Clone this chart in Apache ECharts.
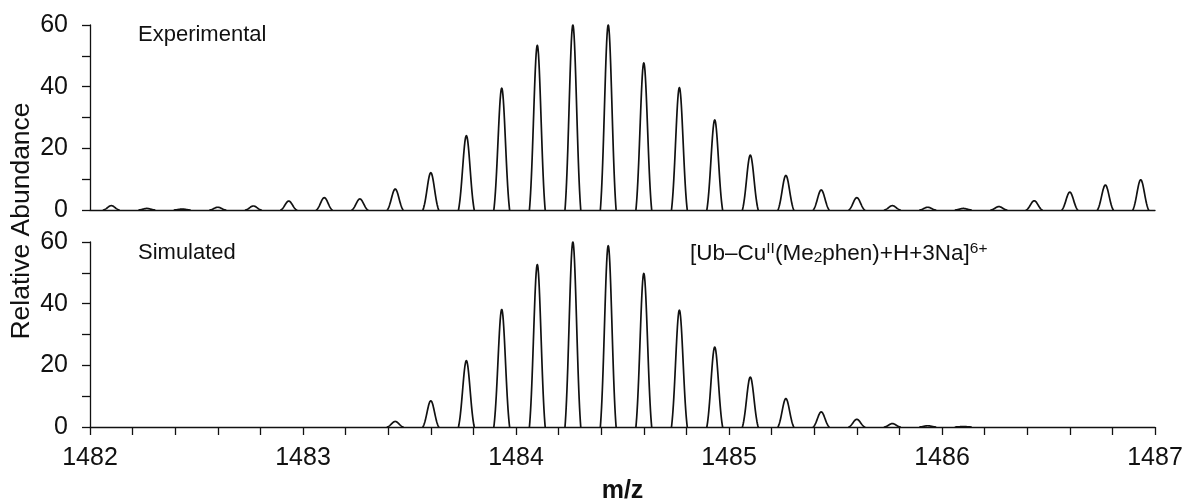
<!DOCTYPE html>
<html>
<head>
<meta charset="utf-8">
<script src="https://cdn.jsdelivr.net/npm/echarts@6/dist/echarts.min.js"></script>
<style>
html,body{margin:0;padding:0;background:#fff;}
#chart{width:1186px;height:501px;}
</style>
</head>
<body>
<div id="chart"></div>
<script>
// Peak centroid positions (m/z)
const peakMz = [
  1482.100, 1482.267, 1482.433, 1482.600, 1482.767, 1482.933,
  1483.100, 1483.267, 1483.433, 1483.600, 1483.767, 1483.933,
  1484.100, 1484.267, 1484.433, 1484.600, 1484.767, 1484.933,
  1485.100, 1485.267, 1485.433, 1485.600, 1485.767, 1485.933,
  1486.100, 1486.267, 1486.433, 1486.600, 1486.767, 1486.933
];
// Experimental peak heights (relative abundance)
const experimental = [
  1.4, 0.5, 0.3, 0.9, 1.3, 2.9,
  4.0, 3.6, 6.8, 12.1, 24.1, 39.5,
  53.4, 60.0, 60.0, 47.7, 39.7, 29.2,
  17.8, 11.2, 6.5, 4.0, 1.4, 0.9,
  0.5, 1.1, 3.0, 5.8, 8.1, 9.8
];
// Simulated peak heights (relative abundance)
const simulated = [
  0, 0, 0, 0, 0, 0,
  0, 0, 1.8, 8.5, 21.5, 38.1,
  52.7, 60.0, 58.8, 49.8, 37.9, 25.9,
  16.2, 9.2, 4.9, 2.5, 1.1, 0.4,
  0.15, 0, 0, 0, 0, 0
];
const xTicks = [1482, 1483, 1484, 1485, 1486, 1487];
const yTicks = [0, 20, 40, 60];

const FONT = 'Liberation Sans, Arial, sans-serif';
const LINE = '#111';

function pairs(vals) {
  return peakMz.map((m, i) => [m, vals[i]]);
}

// Draws one peak glyph per data point: a narrow bell shape centred at the
// point's m/z and reaching the point's height, positioned via api.coord.
const HALF_WIDTH = 0.037; // m/z units, visual half-width of a peak at its base
const SHAPE_A = 2.2;
function renderPeak(params, api) {
  const mz = api.value(0);
  const h = api.value(1);
  if (!(h > 0)) return null;
  const pts = [];
  const n = 40;
  const base = Math.exp(-SHAPE_A);
  for (let k = 0; k <= n; k++) {
    const t = -1 + 2 * k / n;
    const f = (Math.exp(-SHAPE_A * t * t) - base) / (1 - base);
    pts.push(api.coord([mz + t * HALF_WIDTH, h * f]));
  }
  return {
    type: 'polyline',
    shape: { points: pts, smooth: 0 },
    style: { stroke: LINE, lineWidth: 1.7, fill: null, lineJoin: 'round', lineCap: 'round' }
  };
}

function isTick(v, list) {
  return list.some(t => Math.abs(t - v) < 1e-6);
}

const yAxisCommon = {
  type: 'value', min: 0, max: 60, interval: 10,
  axisLine: { show: true, lineStyle: { color: LINE, width: 1.3 } },
  axisTick: { show: true, length: 8, lineStyle: { color: LINE, width: 1.3 } },
  splitLine: { show: false },
  axisLabel: {
    margin: 22, fontFamily: FONT, fontSize: 25, color: '#111',
    formatter: v => isTick(v, yTicks) ? String(v) : ''
  }
};

const option = {
  backgroundColor: '#fff',
  animation: false,
  grid: [
    { left: 90, top: 25, width: 1065, height: 185, containLabel: false, outerBoundsMode: 'none' },
    { left: 90, top: 242, width: 1065, height: 185, containLabel: false, outerBoundsMode: 'none' }
  ],
  xAxis: [
    {
      gridIndex: 0, type: 'value', min: 1482, max: 1487, interval: 0.2,
      axisLine: { show: true, onZero: false, lineStyle: { color: LINE, width: 1.3 } },
      axisTick: { show: false }, axisLabel: { show: false }, splitLine: { show: false }
    },
    {
      gridIndex: 1, type: 'value', min: 1482, max: 1487, interval: 0.2,
      axisLine: { show: true, onZero: false, lineStyle: { color: LINE, width: 1.3 } },
      axisTick: { show: true, length: 8, lineStyle: { color: LINE, width: 1.3 } },
      splitLine: { show: false },
      axisLabel: {
        margin: 19, fontFamily: FONT, fontSize: 25, color: '#111',
        showMinLabel: true, showMaxLabel: true,
        formatter: v => isTick(v, xTicks) ? String(Math.round(v)) : ''
      },
      name: 'm/z', nameLocation: 'middle', nameGap: 52,
      nameTextStyle: { fontFamily: FONT, fontSize: 25, fontWeight: 'bold', color: '#111' }
    }
  ],
  yAxis: [
    Object.assign({ gridIndex: 0 }, yAxisCommon),
    Object.assign({ gridIndex: 1 }, yAxisCommon)
  ],
  series: [
    {
      type: 'custom', name: 'Experimental', xAxisIndex: 0, yAxisIndex: 0,
      renderItem: renderPeak, data: pairs(experimental), clip: false
    },
    {
      type: 'custom', name: 'Simulated', xAxisIndex: 1, yAxisIndex: 1,
      renderItem: renderPeak, data: pairs(simulated), clip: false
    }
  ],
  graphic: [
    {
      type: 'text', left: 138, top: 24,
      style: { text: 'Experimental', fontFamily: FONT, fontSize: 22, fill: '#111' }
    },
    {
      type: 'text', left: 138, top: 242,
      style: { text: 'Simulated', fontFamily: FONT, fontSize: 22, fill: '#111' }
    },
    {
      type: 'text', left: 690, top: 241,
      style: {
        text: '[Ub–Cu{sup|II}(Me{sub|2}phen)+H+3Na]{sup|6+}',
        fontFamily: FONT, fontSize: 22.5, fill: '#111',
        rich: {
          sup: { fontFamily: FONT, fontSize: 15.5, fill: '#111', verticalAlign: 'top', padding: [0, 0, 8, 0] },
          sub: { fontFamily: FONT, fontSize: 15.5, fill: '#111', padding: [9, 0, 0, 0] }
        }
      }
    },
    {
      type: 'text', x: 22, y: 221, rotation: Math.PI / 2,
      style: {
        text: 'Relative Abundance', fontFamily: FONT, fontSize: 26.5, fill: '#111',
        align: 'center', verticalAlign: 'middle'
      }
    }
  ]
};

const chart = echarts.init(document.getElementById('chart'), null, { renderer: 'canvas' });
chart.setOption(option);
</script>
</body>
</html>
